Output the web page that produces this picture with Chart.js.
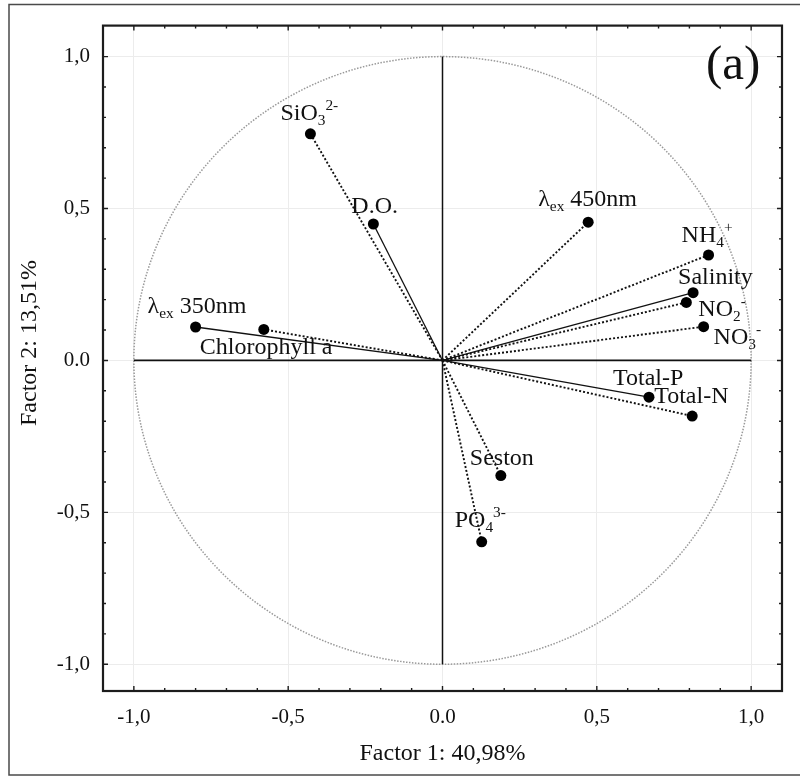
<!DOCTYPE html>
<html>
<head>
<meta charset="utf-8">
<title>Factor loadings (a)</title>
<script src="https://cdn.jsdelivr.net/npm/chart.js@4/dist/chart.umd.min.js"></script>
<style>
  html, body { margin: 0; padding: 0; background: #fff; }
  canvas { display: block; }
</style>
</head>
<body>
<canvas id="pca" width="800" height="776"></canvas>
<script>
// Variable names (plain) and their loadings on the first two factors
const variables = ['SiO3 2-', 'D.O.', 'λex 450nm', 'NH4 +', 'Salinity', 'NO2 -', 'NO3 -',
                   'Total-P', 'Total-N', 'λex 350nm', 'Chlorophyll a', 'Seston', 'PO4 3-'];
const factor1 = [-0.428, -0.224, 0.472, 0.862, 0.812, 0.790, 0.846, 0.669, 0.809, -0.800, -0.579, 0.189, 0.127];
const factor2 = [0.746, 0.449, 0.455, 0.347, 0.223, 0.191, 0.111, -0.121, -0.183, 0.110, 0.102, -0.379, -0.597];

// Rich-text form of each variable name: [text, 'sub' | 'sup' | undefined]
const variableText = [
  [['SiO'], ['3', 'sub'], ['2-', 'sup']],
  [['D.O.']],
  [['λ'], ['ex', 'sub'], [' 450nm']],
  [['NH'], ['4', 'sub'], ['+', 'sup']],
  [['Salinity']],
  [['NO'], ['2', 'sub'], ['-', 'sup']],
  [['NO'], ['3', 'sub'], ['-', 'sup']],
  [['Total-P']],
  [['Total-N']],
  [['λ'], ['ex', 'sub'], [' 350nm']],
  [['Chlorophyll a']],
  [['Seston']],
  [['PO'], ['4', 'sub'], ['3-', 'sup']]
];

// Axis ticks and their printed labels
const tickValues = [-1, -0.5, 0, 0.5, 1];
const tickLabels = ['-1,0', '-0,5', '0.0', '0,5', '1,0'];
const xTitle = 'Factor 1: 40,98%';
const yTitle = 'Factor 2: 13,51%';
const panelTag = '(a)';

// ---- styling ----
const SERIF = '"Liberation Serif", "Times New Roman", serif';
const INK = '#111';
// vector line style per variable: true = solid, false = dotted
const vectorSolid = [false, true, false, false, true, false, false, true, false, true, false, false, false];
// label anchor (left end of the baseline) relative to the marker, in px
const labelOffset = [
  [-30, -14], [-22, -11], [-50, -16], [-27, -13], [-15, -9], [12, 14], [10, 17],
  [-36, -12], [-38, -13], [-48, -14], [-64, 25], [-31, -11], [-27, -15]
];

function drawRich(ctx, parts, x, y, size) {
  let cx = x;
  parts.forEach(([t, kind]) => {
    let fs = size, dy = 0;
    if (kind === 'sub') { fs = size * 0.64; dy = size * 0.2; }
    if (kind === 'sup') { fs = size * 0.64; dy = -size * 0.42; }
    ctx.font = fs + 'px ' + SERIF;
    ctx.fillText(t, cx, y + dy);
    cx += ctx.measureText(t).width;
  });
}

const decor = {
  id: 'decor',
  beforeDraw(chart) {
    const ctx = chart.ctx;
    ctx.save();
    ctx.fillStyle = '#fff';
    ctx.fillRect(0, 0, chart.width, chart.height);
    // outer frame of the figure
    ctx.strokeStyle = '#4a4a4a';
    ctx.lineWidth = 1.5;
    ctx.strokeRect(9, 4.5, 820, 770.5);
    ctx.restore();
  },
  beforeDatasetsDraw(chart) {
    const ctx = chart.ctx, xs = chart.scales.x, ys = chart.scales.y;
    const x0 = xs.getPixelForValue(0), y0 = ys.getPixelForValue(0);
    const rx = xs.getPixelForValue(1) - x0, ry = y0 - ys.getPixelForValue(1);
    ctx.save();
    // unit circle
    ctx.strokeStyle = '#999';
    ctx.lineWidth = 1.5;
    ctx.setLineDash([1.5, 1.5]);
    ctx.beginPath();
    ctx.ellipse(x0, y0, rx, ry, 0, 0, Math.PI * 2);
    ctx.stroke();
    // axes through the origin, spanning the circle
    ctx.setLineDash([]);
    ctx.strokeStyle = INK;
    ctx.lineWidth = 1.8;
    ctx.beginPath();
    ctx.moveTo(xs.getPixelForValue(-1), y0);
    ctx.lineTo(xs.getPixelForValue(1), y0);
    ctx.stroke();
    ctx.lineWidth = 1.5;
    ctx.beginPath();
    ctx.moveTo(x0, ys.getPixelForValue(1));
    ctx.lineTo(x0, ys.getPixelForValue(-1));
    ctx.stroke();
    ctx.restore();
  },
  afterDatasetsDraw(chart) {
    const ctx = chart.ctx, xs = chart.scales.x, ys = chart.scales.y;
    const a = chart.chartArea;
    ctx.save();
    // plot box
    ctx.strokeStyle = '#1c1c1c';
    ctx.lineWidth = 2.2;
    ctx.strokeRect(a.left, a.top, a.right - a.left, a.bottom - a.top);
    // inward tick marks every 0.1 on all four sides
    ctx.lineWidth = 1.4;
    ctx.beginPath();
    for (let k = -10; k <= 10; k++) {
      const v = k / 10;
      const len = (k % 5 === 0) ? 5 : 3;
      const px = xs.getPixelForValue(v);
      const py = ys.getPixelForValue(v);
      ctx.moveTo(px, a.bottom); ctx.lineTo(px, a.bottom - len);
      ctx.moveTo(px, a.top); ctx.lineTo(px, a.top + len);
      ctx.moveTo(a.left, py); ctx.lineTo(a.left + len, py);
      ctx.moveTo(a.right, py); ctx.lineTo(a.right - len, py);
    }
    ctx.stroke();
    // variable labels
    ctx.fillStyle = INK;
    ctx.textBaseline = 'alphabetic';
    ctx.textAlign = 'left';
    variableText.forEach((parts, i) => {
      const px = xs.getPixelForValue(factor1[i]);
      const py = ys.getPixelForValue(factor2[i]);
      drawRich(ctx, parts, px + labelOffset[i][0], py + labelOffset[i][1], 24);
    });
    // panel tag
    ctx.font = '49px ' + SERIF;
    ctx.fillText(panelTag, 706, 79);
    // vertical axis title
    ctx.translate(30, 343);
    ctx.rotate(-Math.PI / 2);
    ctx.textAlign = 'center';
    ctx.textBaseline = 'middle';
    ctx.font = '24px ' + SERIF;
    ctx.fillText(yTitle, 0, 0);
    ctx.restore();
  }
};

const datasets = variables.map((name, i) => ({
  label: name,
  data: [{ x: 0, y: 0 }, { x: factor1[i], y: factor2[i] }],
  showLine: true,
  borderColor: INK,
  borderWidth: vectorSolid[i] ? 1.3 : 1.9,
  borderDash: vectorSolid[i] ? [] : [2, 2],
  pointRadius: [0, 5.5],
  pointBackgroundColor: '#000',
  pointBorderColor: '#000',
  pointBorderWidth: 0,
  clip: false
}));

const tickFont = { family: SERIF, size: 21 };
const titleFont = { family: SERIF, size: 24 };
const fmt = v => { const i = tickValues.indexOf(v); return i >= 0 ? tickLabels[i] : ''; };

new Chart(document.getElementById('pca'), {
  type: 'scatter',
  data: { datasets },
  plugins: [decor],
  options: {
    responsive: false,
    devicePixelRatio: 1,
    animation: false,
    events: [],
    layout: { padding: { top: 12, right: 18, left: 0, bottom: 0 } },
    plugins: { legend: { display: false }, tooltip: { enabled: false } },
    scales: {
      x: {
        type: 'linear',
        min: -1.1, max: 1.1,
        afterBuildTicks: s => { s.ticks = tickValues.map(v => ({ value: v })); },
        afterFit: s => { s.height = 85; },
        grid: { color: '#ececec', lineWidth: 1, drawTicks: false },
        border: { display: false },
        ticks: { callback: fmt, font: tickFont, color: INK, padding: 14, maxRotation: 0, autoSkip: false },
        title: { display: true, text: xTitle, font: titleFont, color: INK, padding: { top: 0, bottom: 8 } }
      },
      y: {
        type: 'linear',
        min: -1.088, max: 1.102,
        afterBuildTicks: s => { s.ticks = tickValues.map(v => ({ value: v })); },
        afterFit: s => { s.width = 103; },
        grid: { color: '#ececec', lineWidth: 1, drawTicks: false },
        border: { display: false },
        ticks: { callback: fmt, font: tickFont, color: INK, padding: 13, autoSkip: false },
        title: { display: false }
      }
    }
  }
});
</script>
</body>
</html>
